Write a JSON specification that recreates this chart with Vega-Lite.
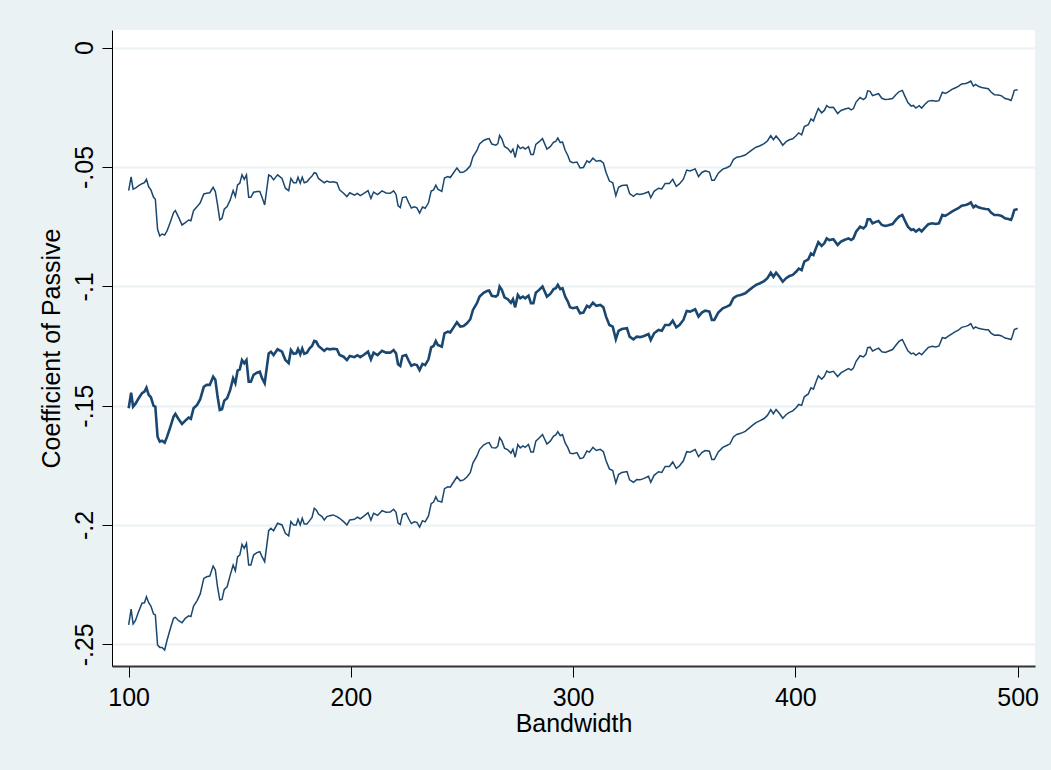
{
  "$schema": "https://vega.github.io/schema/vega-lite/v6.json",
  "width": 923,
  "height": 636,
  "autosize": "none",
  "padding": {"left": 112, "top": 30, "right": 16, "bottom": 104},
  "background": "#EAF2F3",
  "view": {"fill": "white", "stroke": null},
  "config": {
    "font": "Liberation Sans",
    "axis": {"labelFont": "Liberation Sans", "titleFont": "Liberation Sans", "labelColor": "black", "titleColor": "black", "titleFontWeight": "normal", "tickColor": "black", "domainColor": "black"}
  },
  "data": {"values": [
    {"b":100,"lo":-0.2419,"est":-0.1511,"hi":-0.0599},
    {"b":101.1,"lo":-0.2353,"est":-0.1446,"hi":-0.0541},
    {"b":102,"lo":-0.2415,"est":-0.1504,"hi":-0.0593},
    {"b":103,"lo":-0.2401,"est":-0.1493,"hi":-0.0589},
    {"b":104.5,"lo":-0.2363,"est":-0.1469,"hi":-0.0578},
    {"b":106,"lo":-0.2328,"est":-0.1448,"hi":-0.0570},
    {"b":107.1,"lo":-0.2326,"est":-0.1441,"hi":-0.0566},
    {"b":108,"lo":-0.2301,"est":-0.1425,"hi":-0.0552},
    {"b":109,"lo":-0.2326,"est":-0.1455,"hi":-0.0583},
    {"b":110,"lo":-0.2340,"est":-0.1465,"hi":-0.0596},
    {"b":111.2,"lo":-0.2373,"est":-0.1501,"hi":-0.0627},
    {"b":112,"lo":-0.2377,"est":-0.1504,"hi":-0.0635},
    {"b":113,"lo":-0.2503,"est":-0.1630,"hi":-0.0761},
    {"b":114,"lo":-0.2513,"est":-0.1651,"hi":-0.0789},
    {"b":115,"lo":-0.2513,"est":-0.1647,"hi":-0.0781},
    {"b":116.2,"lo":-0.2524,"est":-0.1655,"hi":-0.0785},
    {"b":117.3,"lo":-0.2482,"est":-0.1630,"hi":-0.0767},
    {"b":118.8,"lo":-0.2433,"est":-0.1588,"hi":-0.0729},
    {"b":120.2,"lo":-0.2391,"est":-0.1546,"hi":-0.0691},
    {"b":121,"lo":-0.2387,"est":-0.1535,"hi":-0.0683},
    {"b":122.5,"lo":-0.2401,"est":-0.1557,"hi":-0.0711},
    {"b":124,"lo":-0.2410,"est":-0.1577,"hi":-0.0743},
    {"b":125.5,"lo":-0.2391,"est":-0.1563,"hi":-0.0733},
    {"b":127,"lo":-0.2381,"est":-0.1550,"hi":-0.0722},
    {"b":128,"lo":-0.2384,"est":-0.1555,"hi":-0.0725},
    {"b":129.2,"lo":-0.2340,"est":-0.1511,"hi":-0.0683},
    {"b":130.8,"lo":-0.2317,"est":-0.1497,"hi":-0.0666},
    {"b":132.2,"lo":-0.2289,"est":-0.1473,"hi":-0.0650},
    {"b":133.8,"lo":-0.2224,"est":-0.1421,"hi":-0.0613},
    {"b":135.1,"lo":-0.2217,"est":-0.1413,"hi":-0.0610},
    {"b":136.5,"lo":-0.2214,"est":-0.1413,"hi":-0.0608},
    {"b":138,"lo":-0.2172,"est":-0.1379,"hi":-0.0585},
    {"b":139,"lo":-0.2189,"est":-0.1392,"hi":-0.0603},
    {"b":140,"lo":-0.2261,"est":-0.1462,"hi":-0.0659},
    {"b":141,"lo":-0.2314,"est":-0.1518,"hi":-0.0722},
    {"b":142,"lo":-0.2312,"est":-0.1515,"hi":-0.0715},
    {"b":143,"lo":-0.2270,"est":-0.1479,"hi":-0.0677},
    {"b":144.3,"lo":-0.2259,"est":-0.1469,"hi":-0.0666},
    {"b":145.7,"lo":-0.2210,"est":-0.1434,"hi":-0.0638},
    {"b":147,"lo":-0.2168,"est":-0.1385,"hi":-0.0599},
    {"b":148,"lo":-0.2192,"est":-0.1406,"hi":-0.0624},
    {"b":149,"lo":-0.2133,"est":-0.1353,"hi":-0.0575},
    {"b":150,"lo":-0.2126,"est":-0.1348,"hi":-0.0568},
    {"b":151,"lo":-0.2081,"est":-0.1309,"hi":-0.0533},
    {"b":152,"lo":-0.2098,"est":-0.1322,"hi":-0.0552},
    {"b":153,"lo":-0.2077,"est":-0.1309,"hi":-0.0533},
    {"b":154,"lo":-0.2168,"est":-0.1400,"hi":-0.0627},
    {"b":155,"lo":-0.2168,"est":-0.1400,"hi":-0.0627},
    {"b":156.2,"lo":-0.2126,"est":-0.1371,"hi":-0.0606},
    {"b":157.7,"lo":-0.2116,"est":-0.1362,"hi":-0.0603},
    {"b":159,"lo":-0.2112,"est":-0.1358,"hi":-0.0603},
    {"b":160,"lo":-0.2133,"est":-0.1385,"hi":-0.0627},
    {"b":161.2,"lo":-0.2154,"est":-0.1406,"hi":-0.0659},
    {"b":163,"lo":-0.2024,"est":-0.1281,"hi":-0.0533},
    {"b":164,"lo":-0.2014,"est":-0.1274,"hi":-0.0538},
    {"b":165.2,"lo":-0.2024,"est":-0.1288,"hi":-0.0554},
    {"b":167,"lo":-0.1993,"est":-0.1264,"hi":-0.0533},
    {"b":169,"lo":-0.2000,"est":-0.1274,"hi":-0.0548},
    {"b":170.5,"lo":-0.2035,"est":-0.1309,"hi":-0.0589},
    {"b":172,"lo":-0.2046,"est":-0.1322,"hi":-0.0599},
    {"b":173,"lo":-0.1986,"est":-0.1267,"hi":-0.0548},
    {"b":174.2,"lo":-0.2000,"est":-0.1283,"hi":-0.0566},
    {"b":175.4,"lo":-0.2000,"est":-0.1281,"hi":-0.0566},
    {"b":176.2,"lo":-0.1976,"est":-0.1263,"hi":-0.0543},
    {"b":177.2,"lo":-0.2000,"est":-0.1285,"hi":-0.0568},
    {"b":178.1,"lo":-0.1972,"est":-0.1261,"hi":-0.0543},
    {"b":179,"lo":-0.1996,"est":-0.1283,"hi":-0.0566},
    {"b":180.2,"lo":-0.1996,"est":-0.1278,"hi":-0.0562},
    {"b":181.4,"lo":-0.1982,"est":-0.1260,"hi":-0.0548},
    {"b":182.5,"lo":-0.1968,"est":-0.1250,"hi":-0.0538},
    {"b":183.5,"lo":-0.1930,"est":-0.1229,"hi":-0.0524},
    {"b":184.4,"lo":-0.1937,"est":-0.1232,"hi":-0.0527},
    {"b":185.4,"lo":-0.1954,"est":-0.1250,"hi":-0.0548},
    {"b":187,"lo":-0.1965,"est":-0.1263,"hi":-0.0559},
    {"b":188,"lo":-0.1979,"est":-0.1270,"hi":-0.0566},
    {"b":189.2,"lo":-0.1965,"est":-0.1261,"hi":-0.0559},
    {"b":190.5,"lo":-0.1961,"est":-0.1264,"hi":-0.0564},
    {"b":192,"lo":-0.1958,"est":-0.1262,"hi":-0.0562},
    {"b":193.7,"lo":-0.1965,"est":-0.1264,"hi":-0.0566},
    {"b":194.9,"lo":-0.1972,"est":-0.1288,"hi":-0.0596},
    {"b":196.7,"lo":-0.1986,"est":-0.1295,"hi":-0.0610},
    {"b":198.2,"lo":-0.2000,"est":-0.1309,"hi":-0.0624},
    {"b":199.5,"lo":-0.1979,"est":-0.1292,"hi":-0.0608},
    {"b":201.6,"lo":-0.1976,"est":-0.1297,"hi":-0.0618},
    {"b":202.9,"lo":-0.1967,"est":-0.1289,"hi":-0.0611},
    {"b":204.2,"lo":-0.1974,"est":-0.1297,"hi":-0.0620},
    {"b":205.7,"lo":-0.1964,"est":-0.1288,"hi":-0.0612},
    {"b":207.7,"lo":-0.1949,"est":-0.1274,"hi":-0.0599},
    {"b":209,"lo":-0.1980,"est":-0.1306,"hi":-0.0632},
    {"b":210.2,"lo":-0.1951,"est":-0.1278,"hi":-0.0605},
    {"b":212,"lo":-0.1960,"est":-0.1288,"hi":-0.0616},
    {"b":214,"lo":-0.1940,"est":-0.1270,"hi":-0.0600},
    {"b":215.8,"lo":-0.1947,"est":-0.1278,"hi":-0.0609},
    {"b":217.7,"lo":-0.1946,"est":-0.1278,"hi":-0.0610},
    {"b":219.2,"lo":-0.1934,"est":-0.1267,"hi":-0.0600},
    {"b":220.3,"lo":-0.1947,"est":-0.1281,"hi":-0.0615},
    {"b":221.2,"lo":-0.1992,"est":-0.1327,"hi":-0.0662},
    {"b":222.2,"lo":-0.1998,"est":-0.1334,"hi":-0.0670},
    {"b":223.2,"lo":-0.1956,"est":-0.1292,"hi":-0.0628},
    {"b":224.8,"lo":-0.1951,"est":-0.1288,"hi":-0.0625},
    {"b":226,"lo":-0.1974,"est":-0.1312,"hi":-0.0650},
    {"b":227.2,"lo":-0.1994,"est":-0.1333,"hi":-0.0672},
    {"b":228.5,"lo":-0.1987,"est":-0.1327,"hi":-0.0667},
    {"b":229.7,"lo":-0.1989,"est":-0.1330,"hi":-0.0671},
    {"b":230.9,"lo":-0.2009,"est":-0.1351,"hi":-0.0693},
    {"b":232.2,"lo":-0.1982,"est":-0.1325,"hi":-0.0668},
    {"b":233.4,"lo":-0.1987,"est":-0.1330,"hi":-0.0673},
    {"b":234.9,"lo":-0.1962,"est":-0.1306,"hi":-0.0650},
    {"b":236.1,"lo":-0.1911,"est":-0.1256,"hi":-0.0601},
    {"b":237.2,"lo":-0.1904,"est":-0.1250,"hi":-0.0596},
    {"b":238.2,"lo":-0.1882,"est":-0.1229,"hi":-0.0576},
    {"b":239.1,"lo":-0.1899,"est":-0.1246,"hi":-0.0593},
    {"b":240.9,"lo":-0.1904,"est":-0.1253,"hi":-0.0602},
    {"b":242.1,"lo":-0.1848,"est":-0.1197,"hi":-0.0546},
    {"b":243.6,"lo":-0.1840,"est":-0.1190,"hi":-0.0540},
    {"b":244.7,"lo":-0.1842,"est":-0.1193,"hi":-0.0544},
    {"b":246.2,"lo":-0.1820,"est":-0.1172,"hi":-0.0524},
    {"b":247.7,"lo":-0.1798,"est":-0.1151,"hi":-0.0504},
    {"b":249.2,"lo":-0.1815,"est":-0.1169,"hi":-0.0523},
    {"b":250.7,"lo":-0.1811,"est":-0.1166,"hi":-0.0521},
    {"b":252.2,"lo":-0.1799,"est":-0.1155,"hi":-0.0511},
    {"b":253.7,"lo":-0.1781,"est":-0.1138,"hi":-0.0495},
    {"b":254.9,"lo":-0.1741,"est":-0.1099,"hi":-0.0457},
    {"b":256.7,"lo":-0.1711,"est":-0.1071,"hi":-0.0431},
    {"b":257.9,"lo":-0.1683,"est":-0.1043,"hi":-0.0403},
    {"b":259.7,"lo":-0.1665,"est":-0.1027,"hi":-0.0389},
    {"b":261.2,"lo":-0.1657,"est":-0.1020,"hi":-0.0383},
    {"b":262.2,"lo":-0.1655,"est":-0.1018,"hi":-0.0381},
    {"b":263.4,"lo":-0.1676,"est":-0.1040,"hi":-0.0404},
    {"b":265.2,"lo":-0.1677,"est":-0.1043,"hi":-0.0409},
    {"b":266.1,"lo":-0.1670,"est":-0.1036,"hi":-0.0402},
    {"b":266.9,"lo":-0.1634,"est":-0.1001,"hi":-0.0368},
    {"b":267.9,"lo":-0.1648,"est":-0.1015,"hi":-0.0382},
    {"b":269.1,"lo":-0.1678,"est":-0.1046,"hi":-0.0414},
    {"b":270.6,"lo":-0.1685,"est":-0.1054,"hi":-0.0423},
    {"b":272,"lo":-0.1699,"est":-0.1069,"hi":-0.0439},
    {"b":272.9,"lo":-0.1683,"est":-0.1054,"hi":-0.0425},
    {"b":273.9,"lo":-0.1716,"est":-0.1088,"hi":-0.0460},
    {"b":275.1,"lo":-0.1663,"est":-0.1036,"hi":-0.0409},
    {"b":276.2,"lo":-0.1677,"est":-0.1050,"hi":-0.0423},
    {"b":277.4,"lo":-0.1669,"est":-0.1043,"hi":-0.0417},
    {"b":278.4,"lo":-0.1675,"est":-0.1050,"hi":-0.0425},
    {"b":279.9,"lo":-0.1663,"est":-0.1039,"hi":-0.0415},
    {"b":281,"lo":-0.1694,"est":-0.1071,"hi":-0.0448},
    {"b":282.1,"lo":-0.1694,"est":-0.1071,"hi":-0.0448},
    {"b":283.2,"lo":-0.1649,"est":-0.1027,"hi":-0.0405},
    {"b":284.7,"lo":-0.1636,"est":-0.1015,"hi":-0.0394},
    {"b":286.2,"lo":-0.1621,"est":-0.1001,"hi":-0.0381},
    {"b":288.2,"lo":-0.1661,"est":-0.1043,"hi":-0.0425},
    {"b":289.7,"lo":-0.1649,"est":-0.1032,"hi":-0.0415},
    {"b":291.2,"lo":-0.1628,"est":-0.1012,"hi":-0.0396},
    {"b":292.2,"lo":-0.1623,"est":-0.1008,"hi":-0.0393},
    {"b":293.1,"lo":-0.1609,"est":-0.0994,"hi":-0.0379},
    {"b":294.2,"lo":-0.1626,"est":-0.1012,"hi":-0.0398},
    {"b":295.2,"lo":-0.1621,"est":-0.1008,"hi":-0.0395},
    {"b":296.4,"lo":-0.1656,"est":-0.1043,"hi":-0.0430},
    {"b":297.6,"lo":-0.1676,"est":-0.1064,"hi":-0.0452},
    {"b":298.6,"lo":-0.1699,"est":-0.1088,"hi":-0.0477},
    {"b":299.9,"lo":-0.1702,"est":-0.1092,"hi":-0.0482},
    {"b":301.7,"lo":-0.1697,"est":-0.1088,"hi":-0.0479},
    {"b":303.1,"lo":-0.1722,"est":-0.1113,"hi":-0.0504},
    {"b":304.6,"lo":-0.1718,"est":-0.1110,"hi":-0.0502},
    {"b":306.2,"lo":-0.1690,"est":-0.1082,"hi":-0.0474},
    {"b":307.3,"lo":-0.1695,"est":-0.1088,"hi":-0.0481},
    {"b":308.9,"lo":-0.1675,"est":-0.1069,"hi":-0.0463},
    {"b":310.4,"lo":-0.1688,"est":-0.1082,"hi":-0.0476},
    {"b":312.2,"lo":-0.1683,"est":-0.1078,"hi":-0.0473},
    {"b":313.6,"lo":-0.1693,"est":-0.1088,"hi":-0.0483},
    {"b":314.8,"lo":-0.1731,"est":-0.1127,"hi":-0.0523},
    {"b":316.3,"lo":-0.1765,"est":-0.1162,"hi":-0.0559},
    {"b":317.8,"lo":-0.1772,"est":-0.1169,"hi":-0.0566},
    {"b":319.2,"lo":-0.1824,"est":-0.1222,"hi":-0.0620},
    {"b":320.4,"lo":-0.1789,"est":-0.1187,"hi":-0.0585},
    {"b":321.9,"lo":-0.1780,"est":-0.1179,"hi":-0.0578},
    {"b":324.2,"lo":-0.1776,"est":-0.1176,"hi":-0.0576},
    {"b":325.4,"lo":-0.1811,"est":-0.1211,"hi":-0.0611},
    {"b":327.1,"lo":-0.1821,"est":-0.1222,"hi":-0.0623},
    {"b":328.6,"lo":-0.1810,"est":-0.1211,"hi":-0.0612},
    {"b":330.1,"lo":-0.1811,"est":-0.1213,"hi":-0.0615},
    {"b":331.9,"lo":-0.1805,"est":-0.1208,"hi":-0.0611},
    {"b":333.9,"lo":-0.1796,"est":-0.1200,"hi":-0.0604},
    {"b":334.9,"lo":-0.1821,"est":-0.1225,"hi":-0.0629},
    {"b":336.4,"lo":-0.1792,"est":-0.1197,"hi":-0.0602},
    {"b":338.4,"lo":-0.1777,"est":-0.1183,"hi":-0.0589},
    {"b":339.9,"lo":-0.1780,"est":-0.1186,"hi":-0.0592},
    {"b":341.4,"lo":-0.1755,"est":-0.1162,"hi":-0.0569},
    {"b":343.3,"lo":-0.1755,"est":-0.1162,"hi":-0.0569},
    {"b":344.8,"lo":-0.1736,"est":-0.1144,"hi":-0.0552},
    {"b":346.4,"lo":-0.1763,"est":-0.1172,"hi":-0.0581},
    {"b":347.8,"lo":-0.1753,"est":-0.1162,"hi":-0.0571},
    {"b":349.6,"lo":-0.1731,"est":-0.1141,"hi":-0.0551},
    {"b":351.1,"lo":-0.1693,"est":-0.1103,"hi":-0.0513},
    {"b":352.6,"lo":-0.1695,"est":-0.1106,"hi":-0.0517},
    {"b":354.9,"lo":-0.1684,"est":-0.1096,"hi":-0.0508},
    {"b":356.4,"lo":-0.1714,"est":-0.1127,"hi":-0.0540},
    {"b":357.9,"lo":-0.1697,"est":-0.1110,"hi":-0.0523},
    {"b":359.4,"lo":-0.1688,"est":-0.1102,"hi":-0.0516},
    {"b":361.3,"lo":-0.1691,"est":-0.1106,"hi":-0.0521},
    {"b":362.4,"lo":-0.1726,"est":-0.1141,"hi":-0.0556},
    {"b":363.5,"lo":-0.1726,"est":-0.1141,"hi":-0.0556},
    {"b":365.3,"lo":-0.1694,"est":-0.1110,"hi":-0.0526},
    {"b":367.3,"lo":-0.1675,"est":-0.1092,"hi":-0.0509},
    {"b":369.1,"lo":-0.1667,"est":-0.1085,"hi":-0.0503},
    {"b":370.6,"lo":-0.1660,"est":-0.1078,"hi":-0.0496},
    {"b":372.1,"lo":-0.1631,"est":-0.1050,"hi":-0.0469},
    {"b":373.6,"lo":-0.1621,"est":-0.1040,"hi":-0.0459},
    {"b":375.4,"lo":-0.1616,"est":-0.1036,"hi":-0.0456},
    {"b":377.4,"lo":-0.1608,"est":-0.1029,"hi":-0.0450},
    {"b":379.3,"lo":-0.1593,"est":-0.1015,"hi":-0.0437},
    {"b":380.8,"lo":-0.1582,"est":-0.1004,"hi":-0.0426},
    {"b":382.3,"lo":-0.1571,"est":-0.0994,"hi":-0.0417},
    {"b":384.1,"lo":-0.1563,"est":-0.0987,"hi":-0.0411},
    {"b":385.9,"lo":-0.1554,"est":-0.0978,"hi":-0.0402},
    {"b":387.4,"lo":-0.1541,"est":-0.0966,"hi":-0.0391},
    {"b":388.9,"lo":-0.1517,"est":-0.0943,"hi":-0.0369},
    {"b":390.1,"lo":-0.1534,"est":-0.0960,"hi":-0.0386},
    {"b":391.3,"lo":-0.1516,"est":-0.0943,"hi":-0.0370},
    {"b":392.8,"lo":-0.1533,"est":-0.0960,"hi":-0.0387},
    {"b":394.3,"lo":-0.1553,"est":-0.0981,"hi":-0.0409},
    {"b":395.8,"lo":-0.1538,"est":-0.0966,"hi":-0.0394},
    {"b":397.3,"lo":-0.1528,"est":-0.0957,"hi":-0.0386},
    {"b":398.8,"lo":-0.1522,"est":-0.0952,"hi":-0.0382},
    {"b":400.3,"lo":-0.1509,"est":-0.0939,"hi":-0.0369},
    {"b":401.5,"lo":-0.1495,"est":-0.0926,"hi":-0.0357},
    {"b":402.8,"lo":-0.1499,"est":-0.0932,"hi":-0.0365},
    {"b":404,"lo":-0.1463,"est":-0.0897,"hi":-0.0331},
    {"b":405.8,"lo":-0.1451,"est":-0.0887,"hi":-0.0323},
    {"b":407,"lo":-0.1425,"est":-0.0862,"hi":-0.0299},
    {"b":408.1,"lo":-0.1431,"est":-0.0869,"hi":-0.0307},
    {"b":409.2,"lo":-0.1402,"est":-0.0841,"hi":-0.0280},
    {"b":410.3,"lo":-0.1375,"est":-0.0815,"hi":-0.0255},
    {"b":411.8,"lo":-0.1389,"est":-0.0831,"hi":-0.0273},
    {"b":413,"lo":-0.1377,"est":-0.0820,"hi":-0.0263},
    {"b":414.1,"lo":-0.1355,"est":-0.0799,"hi":-0.0243},
    {"b":415.3,"lo":-0.1361,"est":-0.0806,"hi":-0.0251},
    {"b":417.1,"lo":-0.1356,"est":-0.0803,"hi":-0.0250},
    {"b":419,"lo":-0.1378,"est":-0.0827,"hi":-0.0276},
    {"b":420.5,"lo":-0.1363,"est":-0.0813,"hi":-0.0263},
    {"b":422,"lo":-0.1354,"est":-0.0806,"hi":-0.0258},
    {"b":423.9,"lo":-0.1345,"est":-0.0799,"hi":-0.0253},
    {"b":425.1,"lo":-0.1351,"est":-0.0806,"hi":-0.0261},
    {"b":426.1,"lo":-0.1343,"est":-0.0799,"hi":-0.0255},
    {"b":427.3,"lo":-0.1314,"est":-0.0771,"hi":-0.0228},
    {"b":429.1,"lo":-0.1291,"est":-0.0750,"hi":-0.0209},
    {"b":430.6,"lo":-0.1296,"est":-0.0757,"hi":-0.0218},
    {"b":431.7,"lo":-0.1285,"est":-0.0747,"hi":-0.0209},
    {"b":432.5,"lo":-0.1257,"est":-0.0719,"hi":-0.0181},
    {"b":433.6,"lo":-0.1255,"est":-0.0719,"hi":-0.0183},
    {"b":434.7,"lo":-0.1271,"est":-0.0736,"hi":-0.0201},
    {"b":436.2,"lo":-0.1264,"est":-0.0730,"hi":-0.0196},
    {"b":437.4,"lo":-0.1259,"est":-0.0726,"hi":-0.0193},
    {"b":438.9,"lo":-0.1274,"est":-0.0743,"hi":-0.0212},
    {"b":440.4,"lo":-0.1277,"est":-0.0747,"hi":-0.0217},
    {"b":441.8,"lo":-0.1272,"est":-0.0744,"hi":-0.0216},
    {"b":443.7,"lo":-0.1265,"est":-0.0739,"hi":-0.0213},
    {"b":445.2,"lo":-0.1247,"est":-0.0722,"hi":-0.0197},
    {"b":446.6,"lo":-0.1231,"est":-0.0708,"hi":-0.0185},
    {"b":448.1,"lo":-0.1223,"est":-0.0701,"hi":-0.0179},
    {"b":449.3,"lo":-0.1246,"est":-0.0725,"hi":-0.0204},
    {"b":450.6,"lo":-0.1270,"est":-0.0750,"hi":-0.0230},
    {"b":452.1,"lo":-0.1283,"est":-0.0764,"hi":-0.0245},
    {"b":453.1,"lo":-0.1280,"est":-0.0761,"hi":-0.0242},
    {"b":454.2,"lo":-0.1289,"est":-0.0771,"hi":-0.0253},
    {"b":455.7,"lo":-0.1279,"est":-0.0761,"hi":-0.0243},
    {"b":456.8,"lo":-0.1287,"est":-0.0770,"hi":-0.0253},
    {"b":458.4,"lo":-0.1270,"est":-0.0753,"hi":-0.0236},
    {"b":459.8,"lo":-0.1256,"est":-0.0740,"hi":-0.0224},
    {"b":461.6,"lo":-0.1251,"est":-0.0736,"hi":-0.0221},
    {"b":463.2,"lo":-0.1254,"est":-0.0739,"hi":-0.0224},
    {"b":464.6,"lo":-0.1250,"est":-0.0736,"hi":-0.0222},
    {"b":466.1,"lo":-0.1215,"est":-0.0701,"hi":-0.0187},
    {"b":467.4,"lo":-0.1218,"est":-0.0705,"hi":-0.0192},
    {"b":468.8,"lo":-0.1209,"est":-0.0697,"hi":-0.0185},
    {"b":470.4,"lo":-0.1199,"est":-0.0687,"hi":-0.0175},
    {"b":471.8,"lo":-0.1191,"est":-0.0680,"hi":-0.0169},
    {"b":473.3,"lo":-0.1184,"est":-0.0673,"hi":-0.0162},
    {"b":474.8,"lo":-0.1172,"est":-0.0662,"hi":-0.0152},
    {"b":476.6,"lo":-0.1168,"est":-0.0659,"hi":-0.0150},
    {"b":477.8,"lo":-0.1164,"est":-0.0655,"hi":-0.0146},
    {"b":478.9,"lo":-0.1156,"est":-0.0648,"hi":-0.0140},
    {"b":480.1,"lo":-0.1177,"est":-0.0669,"hi":-0.0161},
    {"b":481.1,"lo":-0.1170,"est":-0.0662,"hi":-0.0154},
    {"b":482.3,"lo":-0.1176,"est":-0.0669,"hi":-0.0162},
    {"b":483.8,"lo":-0.1179,"est":-0.0673,"hi":-0.0167},
    {"b":485.6,"lo":-0.1182,"est":-0.0676,"hi":-0.0170},
    {"b":486.8,"lo":-0.1182,"est":-0.0677,"hi":-0.0172},
    {"b":488,"lo":-0.1196,"est":-0.0691,"hi":-0.0186},
    {"b":489.5,"lo":-0.1205,"est":-0.0701,"hi":-0.0197},
    {"b":491.3,"lo":-0.1204,"est":-0.0701,"hi":-0.0198},
    {"b":492.8,"lo":-0.1208,"est":-0.0705,"hi":-0.0202},
    {"b":494.3,"lo":-0.1217,"est":-0.0715,"hi":-0.0213},
    {"b":495.8,"lo":-0.1220,"est":-0.0718,"hi":-0.0216},
    {"b":497,"lo":-0.1223,"est":-0.0722,"hi":-0.0221},
    {"b":497.6,"lo":-0.1209,"est":-0.0708,"hi":-0.0207},
    {"b":498.5,"lo":-0.1181,"est":-0.0680,"hi":-0.0179},
    {"b":500,"lo":-0.1176,"est":-0.0676,"hi":-0.0176}
  ]},
  "encoding": {
    "x": {"field": "b", "type": "quantitative",
      "scale": {"domain": [92.5, 507.8], "nice": false, "zero": false},
      "axis": {"title": "Bandwidth", "values": [100, 200, 300, 400, 500], "grid": false,
        "labelFontSize": 25, "titleFontSize": 25, "tickSize": 11, "tickWidth": 1,
        "labelPadding": 8, "titlePadding": 1, "domainWidth": 2, "domainColor": "#333333"}}
  },
  "layer": [
    {"mark": {"type": "line", "color": "#1A476F", "strokeWidth": 1.5},
     "encoding": {"y": {"field": "hi", "type": "quantitative",
       "scale": {"domain": [-0.2591, 0.0074], "nice": false, "zero": false},
       "axis": {"title": "Coefficient of Passive", "values": [0, -0.05, -0.1, -0.15, -0.2, -0.25],
         "labelExpr": "datum.value == 0 ? '0' : replace(toString(datum.value), '0.', '.')",
         "grid": true, "gridColor": "#EAF2F3", "gridWidth": 2,
         "labelAngle": 270, "labelAlign": "center", "labelBaseline": "bottom",
         "labelFontSize": 25, "titleFontSize": 25, "tickSize": 10, "tickWidth": 1,
         "labelPadding": 5, "titlePadding": 8, "domainWidth": 1}}}},
    {"mark": {"type": "line", "color": "#1A476F", "strokeWidth": 2.6},
     "encoding": {"y": {"field": "est", "type": "quantitative"}}},
    {"mark": {"type": "line", "color": "#1A476F", "strokeWidth": 1.5},
     "encoding": {"y": {"field": "lo", "type": "quantitative"}}}
  ]
}
